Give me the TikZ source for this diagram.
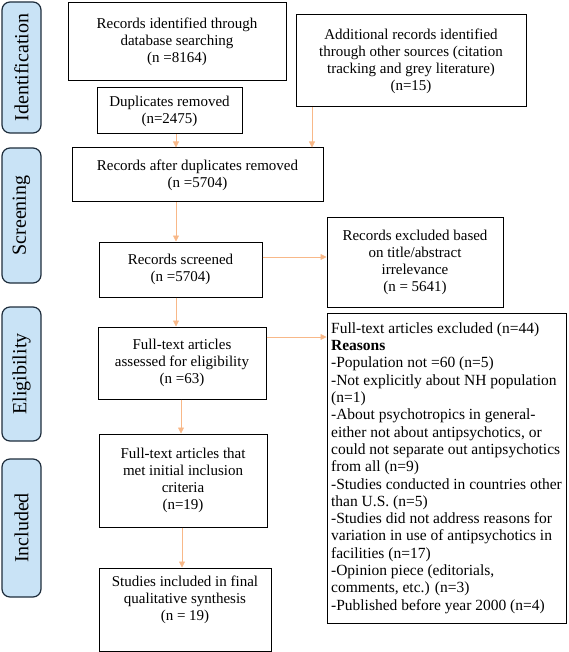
\documentclass[tikz,border=0pt]{standalone}
\usepackage{fontspec}
\setmainfont{Liberation Serif}
\usetikzlibrary{arrows.meta,shapes}
\usetikzlibrary{positioning}

\definecolor{arroworange}{HTML}{F8B888}
\definecolor{stagefill}{HTML}{C9E3F6}
\definecolor{stageline}{HTML}{1E2D3C}

\tikzset{
	stagebox/.style={draw=stageline, fill=stagefill, line width=1.2pt, rounded corners=8pt,
		rotate=90, minimum height=39pt, inner sep=0pt, font=\fontsize{20}{22}\selectfont},
	flowbox/.style={draw, line width=1pt, align=center, inner sep=2pt},
	flowarrow/.style={draw=arroworange, line width=0.8pt, -{Triangle[length=6pt,width=6pt]}}
}

\begin{document}
\begin{tikzpicture}[x=1pt, y=-1pt, font=\fontsize{15}{17}\selectfont]
\useasboundingbox (0,0) rectangle (568,652);

% stages on the left
\node [stagebox, minimum width=131pt] (Ident) at (21.5,67.5) {Identification};
\node [stagebox, minimum width=135pt] (Screen) at (21.5,215.5) {Screening};
\node [stagebox, minimum width=134pt] (Elig) at (21.5,374) {Eligibility};
\node [stagebox, minimum width=138pt] (Incl) at (21.5,528) {Included};

% identification
\node [flowbox, minimum width=218pt, minimum height=78pt] (RecIdent) at (177,42)
	{Records identified through\\database searching\\(n =8164)};
\node [flowbox, minimum width=230pt, minimum height=92pt] (RecAdd) at (411,61)
	{Additional records identified\\through other sources (citation\\tracking and grey literature)\\(n=15)};
\node [flowbox, minimum width=145pt, minimum height=46pt] (Dup) at (169.5,111)
	{Duplicates removed\\(n=2475)};

% screening
\node [flowbox, minimum width=251pt, minimum height=54pt] (RecDup) at (197.5,175)
	{Records after duplicates removed\\(n =5704)};
\node [flowbox, minimum width=163pt, minimum height=55pt] (RecScreen) at (180.5,269.5)
	{Records screened\\(n =5704)};
\node [flowbox, minimum width=176pt, minimum height=90pt] (ExclTitle) at (415,262)
	{Records excluded based\\on title/abstract\\irrelevance\\(n = 5641)};

% eligibility
\node [flowbox, minimum width=168pt, minimum height=72pt] (FullText) at (182,363)
	{Full-text articles\\assessed for eligibility\\(n =63)};
\node [flowbox, align=left, minimum width=239pt, minimum height=310pt,
	font=\fontsize{15.5}{17.3}\selectfont] (ExclFull) at (446.5,468)
	{Full-text articles excluded (n=44)\\
	\textbf{Reasons}\\
	-Population not =60 (n=5)\\
	-Not explicitly about NH population\\
	(n=1)\\
	-About psychotropics in general-\\
	either not about antipsychotics, or\\
	could not separate out antipsychotics\\
	from all (n=9)\\
	-Studies conducted in countries other\\
	than U.S. (n=5)\\
	-Studies did not address reasons for\\
	variation in use of antipsychotics in\\
	facilities (n=17)\\
	-Opinion piece (editorials,\\
	comments, etc.) (n=3)\\
	-Published before year 2000 (n=4)};

% included
\node [flowbox, minimum width=168pt, minimum height=93pt] (MetCrit) at (183,480.5)
	{Full-text articles that\\met initial inclusion\\criteria\\(n=19)};
\node [flowbox, minimum width=172pt, minimum height=83pt] (Final) at (185,609.5)
	{Studies included in final\\qualitative synthesis\\(n = 19)\\[6pt]};

% arrows
\draw [flowarrow] ([xshift=6.5pt]Dup.south) -- ([xshift=6.5pt]Dup.south |- RecDup.north);
\draw [flowarrow] ([xshift=-99pt]RecAdd.south) -- ([xshift=-99pt]RecAdd.south |- RecDup.north);
\draw [flowarrow] ([xshift=-4.5pt]RecScreen.north |- RecDup.south) -- ([xshift=-4.5pt]RecScreen.north);
\draw [flowarrow] ([xshift=-4.5pt]RecScreen.south) -- ([xshift=-4.5pt]RecScreen.south |- FullText.north);
\draw [flowarrow] ([yshift=12.5pt]RecScreen.east) -- ([yshift=12.5pt]RecScreen.east -| ExclTitle.west);
\draw [flowarrow] ([yshift=26pt]FullText.east) -- ([yshift=26pt]FullText.east -| ExclFull.west);
\draw [flowarrow] ([xshift=-1pt]FullText.south) -- ([xshift=-1pt]FullText.south |- MetCrit.north);
\draw [flowarrow] ([xshift=-1pt]MetCrit.south) -- ([xshift=-1pt]MetCrit.south |- Final.north);

\end{tikzpicture}
\end{document}
